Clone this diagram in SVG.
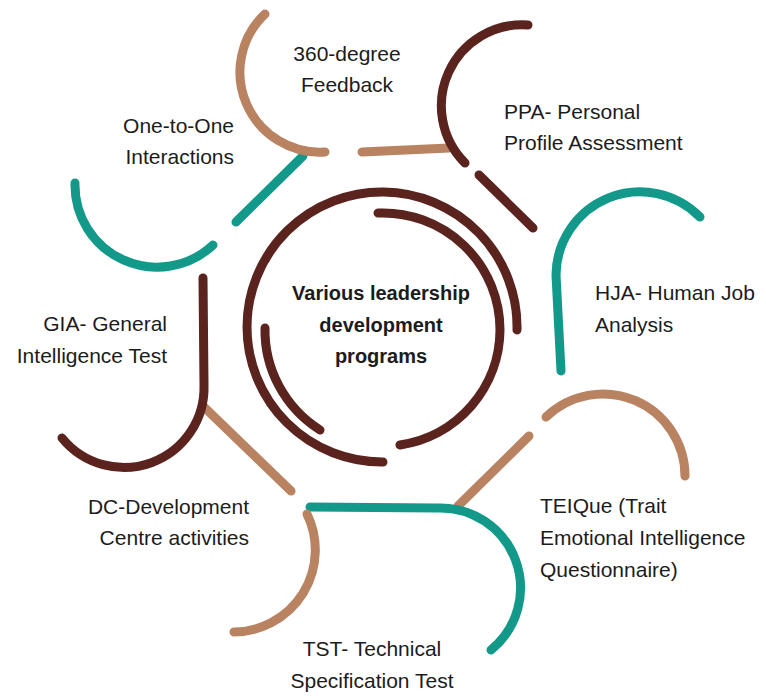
<svg xmlns="http://www.w3.org/2000/svg" width="766" height="696" viewBox="0 0 766 696">
<style>
.s{fill:none;stroke-width:9;stroke-linecap:round;stroke-linejoin:round}
.tan{stroke:#B98260}
.brn{stroke:#5A231E}
.tea{stroke:#12998A}
text{font-family:"Liberation Sans",Arial,sans-serif;font-size:21px;fill:#1c1c1c}
.c{font-weight:bold;font-size:20px;text-anchor:middle}
.m{text-anchor:middle}
.e{text-anchor:end}
</style>
<rect width="766" height="696" fill="#ffffff"/>
<g id="center">
<path class="s brn" d="M383 462 A135 135 0 1 1 517 330"/>
<path class="s brn" d="M378 213 A117 117 0 0 1 500 330 A117 117 0 0 1 400 445"/>
<path class="s brn" d="M265 328 A118 118 0 0 0 320 430"/>
<text class="c" x="381" y="300">Various leadership</text>
<text class="c" x="381" y="332">development</text>
<text class="c" x="381" y="363">programs</text>
</g>
<g id="connectors">
<path class="s tan" d="M362 152 L449 148"/>
<path class="s brn" d="M479 175 L533 228"/>
<path class="s tan" d="M529 436 L458 506"/>
<path class="s tan" d="M204 407 L291 491"/>
<path class="s tea" d="M236 222 L303 156"/>
</g>
<g id="n360">
<path class="s tan" d="M265 14 A80 80 0 0 0 325 152"/>
<text class="m" x="347" y="61">360-degree</text>
<text class="m" x="347" y="92">Feedback</text>
</g>
<g id="ppa">
<path class="s brn" d="M528 25 A81 81 0 0 0 465 163"/>
<text x="504" y="119">PPA- Personal</text>
<text x="504" y="150">Profile Assessment</text>
</g>
<g id="hja">
<path class="s tea" d="M700 217 A84 84 0 0 0 556 275 L561 371"/>
<text x="595" y="300">HJA- Human Job</text>
<text x="595" y="332">Analysis</text>
</g>
<g id="teique">
<path class="s tan" d="M546 417 A82 82 0 0 1 685 476"/>
<text x="540" y="513">TEIQue (Trait</text>
<text x="540" y="545">Emotional Intelligence</text>
<text x="540" y="577">Questionnaire)</text>
</g>
<g id="tst">
<path class="s tea" d="M310 507 L437 508 A80 80 0 0 1 491 650"/>
<text class="m" x="372" y="656">TST- Technical</text>
<text class="m" x="372" y="688">Specification Test</text>
</g>
<g id="dc">
<path class="s tan" d="M307 514 A82 82 0 0 1 234 632"/>
<text class="e" x="249" y="514">DC-Development</text>
<text class="e" x="249" y="545">Centre activities</text>
</g>
<g id="gia">
<path class="s brn" d="M203 278 L204 385 A80 80 0 0 1 62 438"/>
<text class="e" x="167" y="331">GIA- General</text>
<text class="e" x="167" y="363">Intelligence Test</text>
</g>
<g id="one">
<path class="s tea" d="M75 183 A82 82 0 0 0 213 245"/>
<text class="e" x="234" y="133">One-to-One</text>
<text class="e" x="234" y="164">Interactions</text>
</g>
</svg>
